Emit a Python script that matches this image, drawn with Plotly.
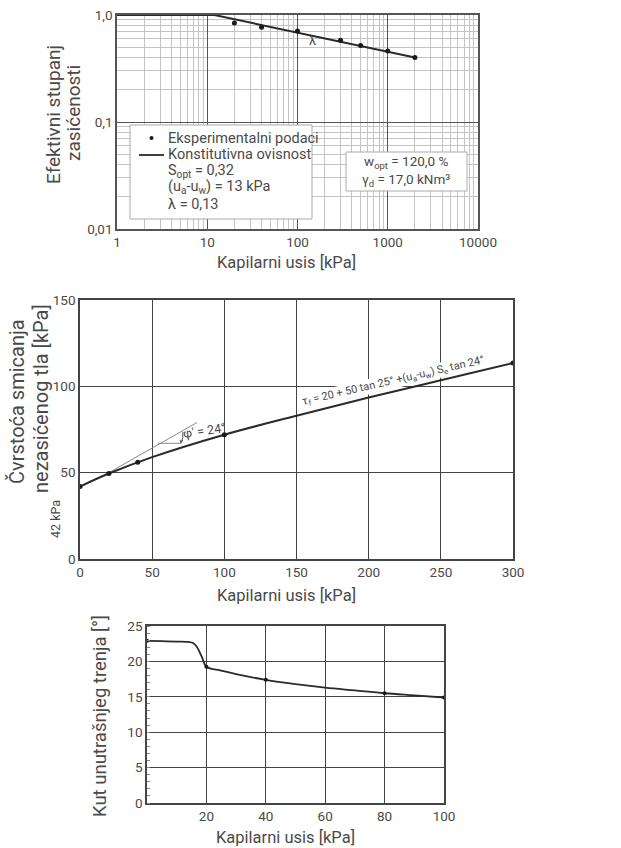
import plotly.graph_objects as go

W, H = 621, 848
def px(x): return x / W
def py(y): return 1 - y / H

FONT = "Roboto"
TXT = "#4a4a4a"

# ---------------- data ----------------
# top chart: effective degree of saturation vs suction (log-log)
suction_pts = [20, 40, 100, 300, 500, 1000, 2000]
saturation_pts = [0.84, 0.77, 0.71, 0.58, 0.52, 0.46, 0.40]
model_suction = [1, 12, 2000]
model_saturation = [1.0, 1.0, 0.40]
top_xticks = [1, 10, 100, 1000, 10000]
top_xlabels = ["1", "10", "100", "1000", "10000"]
top_yticks = [0.01, 0.1, 1.0]
top_ylabels = ["0,01", "0,1", "1,0"]

# middle chart: shear strength vs suction
tau_x_pts = [0, 20, 40, 100, 300]
tau_y_pts = [42, 49.5, 56, 72, 113.5]
tau_curve_x = [0, 20, 50, 100, 150, 200, 250, 300]
tau_curve_y = [42, 49.5, 59, 72, 83, 93.5, 103.5, 113.5]
tangent_x = [20, 81]
tangent_y = [50, 79]
mid_xticks = [0, 50, 100, 150, 200, 250, 300]
mid_yticks = [0, 50, 100, 150]

# bottom chart: friction angle vs suction
phi_x_pts = [0, 20, 40, 80, 100]
phi_y_pts = [22.9, 19.25, 17.4, 15.5, 14.9]
phi_curve_x = [0, 5, 10, 14, 15.5, 16.7, 18.4, 20, 25, 30, 40, 50, 60, 70, 80, 90, 100]
phi_curve_y = [22.9, 22.85, 22.8, 22.75, 22.6, 22.1, 20.7, 19.25, 18.7, 18.2, 17.4, 16.8, 16.3, 15.9, 15.5, 15.2, 14.9]
bot_xticks = [20, 40, 60, 80, 100]
bot_yticks = [0, 5, 10, 15, 20, 25]

fig = go.Figure()

# top traces
fig.add_trace(go.Scatter(x=model_suction, y=model_saturation, mode="lines",
                         line=dict(color="#2a2a2a", width=2), xaxis="x", yaxis="y",
                         showlegend=False, hoverinfo="skip", cliponaxis=False))
fig.add_trace(go.Scatter(x=suction_pts, y=saturation_pts, mode="markers",
                         marker=dict(color="#1a1a1a", size=5), xaxis="x", yaxis="y",
                         showlegend=False))
# middle traces
fig.add_trace(go.Scatter(x=tangent_x, y=tangent_y, mode="lines",
                         line=dict(color="#8a8a8a", width=1), xaxis="x2", yaxis="y2",
                         showlegend=False, hoverinfo="skip"))
fig.add_trace(go.Scatter(x=tau_curve_x, y=tau_curve_y, mode="lines", line_shape="spline",
                         line=dict(color="#2a2a2a", width=2), xaxis="x2", yaxis="y2",
                         showlegend=False, hoverinfo="skip"))
fig.add_trace(go.Scatter(x=tau_x_pts, y=tau_y_pts, mode="markers",
                         marker=dict(color="#1a1a1a", size=5), xaxis="x2", yaxis="y2",
                         showlegend=False))
# bottom traces
fig.add_trace(go.Scatter(x=phi_curve_x, y=phi_curve_y, mode="lines", line_shape="spline",
                         line=dict(color="#2a2a2a", width=1.8), xaxis="x3", yaxis="y3",
                         showlegend=False, hoverinfo="skip"))
fig.add_trace(go.Scatter(x=phi_x_pts, y=phi_y_pts, mode="markers",
                         marker=dict(color="#1a1a1a", size=4), xaxis="x3", yaxis="y3",
                         showlegend=False))

minor_log_x = [m * 10 ** k for k in range(0, 4) for m in range(2, 10)]
minor_log_y = [m * 10 ** k for k in range(-2, 0) for m in range(2, 10)]

tickfont = dict(family=FONT, size=13.5, color=TXT)

fig.update_layout(
    width=W, height=H, margin=dict(l=0, r=0, t=0, b=0),
    paper_bgcolor="white", plot_bgcolor="white",
    font=dict(family=FONT, color=TXT),
    xaxis=dict(domain=[px(117), px(478)], anchor="y", type="log", range=[0, 4],
               tickvals=top_xticks, ticktext=top_xlabels, tickfont=tickfont, automargin=False,
               showgrid=True, gridcolor="#555", gridwidth=1.4,
               minor=dict(tickvals=minor_log_x, showgrid=True, gridcolor="#c4c4c4", gridwidth=1),
               showline=True, linecolor="#555", linewidth=1.5, mirror=True, zeroline=False,
               ticks=""),
    yaxis=dict(domain=[py(229), py(15)], anchor="x", type="log", range=[-2, 0],
               tickvals=top_yticks, ticktext=top_ylabels, tickfont=tickfont, automargin=False,
               showgrid=True, gridcolor="#555", gridwidth=1.4,
               minor=dict(tickvals=minor_log_y, showgrid=True, gridcolor="#c4c4c4", gridwidth=1),
               showline=True, linecolor="#555", linewidth=1.5, mirror=True, zeroline=False,
               ticks=""),
    xaxis2=dict(domain=[px(80), px(513)], anchor="y2", range=[0, 300],
                tickvals=mid_xticks, tickfont=tickfont, automargin=False,
                showgrid=True, gridcolor="#444", gridwidth=1.3,
                showline=True, linecolor="#444", linewidth=1.5, mirror=True, zeroline=False),
    yaxis2=dict(domain=[py(559), py(300)], anchor="x2", range=[0, 150],
                tickvals=mid_yticks, tickfont=tickfont, automargin=False,
                showgrid=True, gridcolor="#444", gridwidth=1.3,
                showline=True, linecolor="#444", linewidth=1.5, mirror=True, zeroline=False),
    xaxis3=dict(domain=[px(147), px(444)], anchor="y3", range=[0, 100],
                tickvals=bot_xticks, tickfont=tickfont, automargin=False,
                showgrid=True, gridcolor="#444", gridwidth=1.3,
                showline=True, linecolor="#444", linewidth=1.5, mirror=True, zeroline=False),
    yaxis3=dict(domain=[py(803), py(626)], anchor="x3", range=[0, 25],
                tickvals=bot_yticks, tickfont=tickfont, automargin=False,
                showgrid=True, gridcolor="#444", gridwidth=1.3,
                minor=dict(dtick=1, ticks="inside", ticklen=3, tickcolor="#888", showgrid=False),
                showline=True, linecolor="#444", linewidth=1.5, mirror=True, zeroline=False),
)

shapes = []
ann = []

def text(x, y, s, size=14, angle=0, xanchor="center", yanchor="middle", color=TXT, **kw):
    ann.append(dict(x=x, y=y, xref="paper", yref="paper", text=s, showarrow=False,
                    font=dict(family=FONT, size=size, color=color), textangle=angle,
                    xanchor=xanchor, yanchor=yanchor, borderpad=0, **kw))

# ---- top chart decorations ----
# legend box
shapes.append(dict(type="rect", xref="paper", yref="paper", x0=px(130), x1=px(312),
                   y0=py(219), y1=py(125), fillcolor="white", line=dict(color="#aaa", width=1),
                   layer="above"))
shapes.append(dict(type="circle", xref="paper", yref="paper", x0=px(149.5), x1=px(153.5),
                   y0=py(140), y1=py(136), fillcolor="#1a1a1a", line=dict(width=0), layer="above"))
shapes.append(dict(type="line", xref="paper", yref="paper", x0=px(139), x1=px(164),
                   y0=py(155), y1=py(155), line=dict(color="#2a2a2a", width=1.8), layer="above"))
LG = 14.5
text(px(167), py(138), "Eksperimentalni podaci", LG, xanchor="left")
text(px(167), py(155), "Konstitutivna ovisnost", LG, xanchor="left")
text(px(167), py(171), "S<sub>opt</sub> = 0,32", LG, xanchor="left")
text(px(167), py(187), "(u<sub>a</sub>-u<sub>w</sub>) = 13 kPa", LG, xanchor="left")
text(px(167), py(204), "λ = 0,13", LG, xanchor="left")
# parameter box
shapes.append(dict(type="rect", xref="paper", yref="paper", x0=px(346), x1=px(467),
                   y0=py(191), y1=py(152), fillcolor="white", line=dict(color="#aaa", width=1),
                   layer="above"))
text(px(406), py(162), "w<sub>opt</sub> = 120,0 %", 13.5)
text(px(406), py(180), "γ<sub>d</sub> = 17,0 kNm³", 13.5)
# slope triangle
shapes.append(dict(type="path", xref="x", yref="y",
                   path="M 2.2788,-0.2076 L 2.2788,-0.2404 L 2.4771,-0.2404",
                   line=dict(color="#2a2a2a", width=1.2)))
ann.append(dict(x=2.17, y=-0.235, xref="x", yref="y", text="λ", showarrow=False,
                font=dict(family=FONT, size=13, color=TXT)))
# axis titles
text(px(53), py(115), "Efektivni stupanj", 19, angle=-90)
text(px(73), py(113), "zasićenosti", 19, angle=-90)
text(px(286), py(262), "Kapilarni usis [kPa]", 16.5)

# ---- middle chart decorations ----
shapes.append(dict(type="line", xref="x2", yref="y2", x0=54, x1=70, y0=67, y1=67,
                   line=dict(color="#8a8a8a", width=1)))
shapes.append(dict(type="path", xref="x2", yref="y2",
                   path="M 70,67.3 Q 71.8,70 71.2,73.6", line=dict(color="#555", width=1)))
shapes.append(dict(type="path", xref="x2", yref="y2",
                   path="M 69.3,69 L 70,67.3 L 71.2,68.8", line=dict(color="#555", width=1)))
ann.append(dict(x=86, y=74.5, xref="x2", yref="y2", text="φ' = 24°", showarrow=False,
                textangle=-8, font=dict(family=FONT, size=12.5, color=TXT)))
ann.append(dict(x=217, y=103, xref="x2", yref="y2",
                text="τ<sub>f</sub> = 20 + 50 tan 25° +(u<sub>a</sub>-u<sub>w</sub>) S<sub>e</sub> tan 24°",
                showarrow=False, textangle=-13, bgcolor="white", borderpad=0,
                font=dict(family=FONT, size=11, color=TXT)))
text(px(55), py(519), "42 kPa", 12.5, angle=-90)
text(px(17), py(402), "Čvrstoća smicanja", 20, angle=-90)
text(px(41), py(399), "nezasićenog tla [kPa]", 20, angle=-90)
text(px(286), py(595), "Kapilarni usis [kPa]", 16.5)

# ---- bottom chart decorations ----
text(px(100), py(716), "Kut unutrašnjeg trenja [°]", 18.5, angle=-90)
text(px(285), py(837), "Kapilarni usis [kPa]", 16.5)

fig.update_layout(shapes=shapes, annotations=ann)
fig.write_html("out.html", config={"displayModeBar": False},
               post_script="document.body.style.margin='0';document.body.style.padding='0';")
